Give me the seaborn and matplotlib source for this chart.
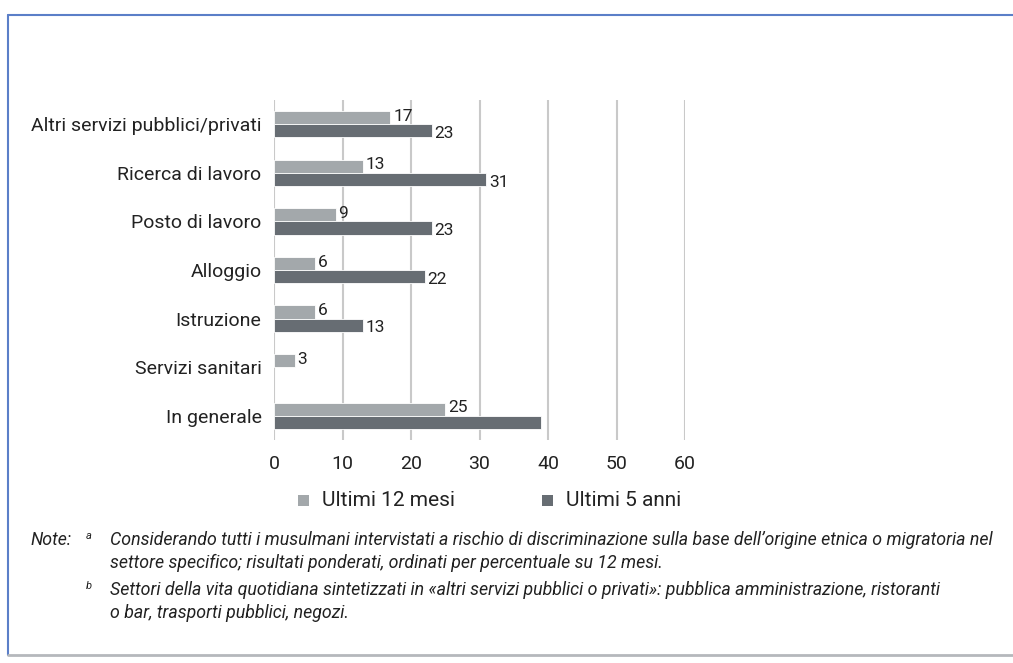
import matplotlib
matplotlib.use("Agg")
import matplotlib.pyplot as plt
from matplotlib.lines import Line2D
from matplotlib.patches import Rectangle
import seaborn as sns
import pandas as pd
import numpy as np

categories = [
    "Altri servizi pubblici/privati",
    "Ricerca di lavoro",
    "Posto di lavoro",
    "Alloggio",
    "Istruzione",
    "Servizi sanitari",
    "In generale",
]
ultimi_12_mesi = [17, 13, 9, 6, 6, 3, 25]
ultimi_5_anni = [23, 31, 23, 22, 13, np.nan, 39]
series_names = ["Ultimi 12 mesi", "Ultimi 5 anni"]
x_ticks = [0, 10, 20, 30, 40, 50, 60]

light = "#a3a8ab"
dark = "#676d73"
grid_col = "#c9c9c9"
text_col = "#222222"

df = pd.DataFrame({
    "settore": categories * 2,
    "valore": ultimi_12_mesi + ultimi_5_anni,
    "periodo": [series_names[0]] * len(categories) + [series_names[1]] * len(categories),
})

sns.set_theme(style="white")
plt.rcParams["font.family"] = ["Roboto", "DejaVu Sans"]

fig = plt.figure(figsize=(10.13, 6.63), dpi=100)
ax = fig.add_axes([274 / 1013, 1 - 440 / 663, 411 / 1013, 340 / 663])

sns.barplot(
    data=df, y="settore", x="valore", hue="periodo", orient="h",
    palette=[light, dark], width=0.54, ax=ax, legend=False,
    edgecolor="white", linewidth=0.6, saturation=1,
)

ax.set_xlim(0, 60)
ax.set_ylim(len(categories) - 0.5, -0.5)
ax.set_xticks(x_ticks)
ax.set_xticklabels([str(t) for t in x_ticks], fontsize=14, color=text_col)
ax.tick_params(axis="x", length=0, pad=11)
ax.tick_params(axis="y", length=0, pad=9)
for lbl in ax.get_yticklabels():
    lbl.set_fontsize(14)
    lbl.set_color(text_col)
ax.set_xlabel("")
ax.set_ylabel("")
for s in ax.spines.values():
    s.set_visible(False)
for t in x_ticks:
    ax.axvline(t, color=grid_col, lw=1.5, zorder=0)

# value labels next to each bar
for k, (cont, vals) in enumerate(zip(ax.containers, [ultimi_12_mesi, ultimi_5_anni])):
    dy = 1 if k == 0 else -2
    for bar, v in zip(cont, vals):
        if bar is None or np.isnan(v):
            continue
        yc = bar.get_y() + bar.get_height() / 2
        ax.annotate(f"{v:g}", (bar.get_width(), yc), xytext=(2, dy),
                    textcoords="offset points", va="center", ha="left",
                    fontsize=12.5, color=text_col)

# legend
fig.patches.append(Rectangle((298 / 1013, 1 - 506 / 663), 11 / 1013, 11 / 663,
                             transform=fig.transFigure, facecolor=light, edgecolor="none"))
fig.text(322 / 1013, 1 - 500 / 663, series_names[0], fontsize=15, color=text_col, va="center")
fig.patches.append(Rectangle((542 / 1013, 1 - 506 / 663), 11 / 1013, 11 / 663,
                             transform=fig.transFigure, facecolor=dark, edgecolor="none"))
fig.text(566 / 1013, 1 - 500 / 663, series_names[1], fontsize=15, color=text_col, va="center")

# notes
note_kw = dict(fontsize=12.8, style="italic", color=text_col, va="center")
fig.text(30 / 1013, 1 - 540 / 663, "Note:", **note_kw)
fig.text(86 / 1013, 1 - 536 / 663, "a", fontsize=8, style="italic", color=text_col, va="center")
fig.text(110 / 1013, 1 - 540 / 663,
         "Considerando tutti i musulmani intervistati a rischio di discriminazione sulla base dell\u2019origine etnica o migratoria nel",
         **note_kw)
fig.text(110 / 1013, 1 - 563 / 663,
         "settore specifico; risultati ponderati, ordinati per percentuale su 12 mesi.", **note_kw)
fig.text(86 / 1013, 1 - 586 / 663, "b", fontsize=8, style="italic", color=text_col, va="center")
fig.text(110 / 1013, 1 - 590 / 663,
         "Settori della vita quotidiana sintetizzati in \u00abaltri servizi pubblici o privati\u00bb: pubblica amministrazione, ristoranti",
         **note_kw)
fig.text(110 / 1013, 1 - 613 / 663, "o bar, trasporti pubblici, negozi.", **note_kw)

# frame
frame_blue = "#5b7fc8"
fig.add_artist(Line2D([8 / 1013, 8 / 1013], [1 - 15 / 663, 1 - 655 / 663],
                      transform=fig.transFigure, color=frame_blue, lw=1.5))
fig.add_artist(Line2D([8 / 1013, 1.0], [1 - 15 / 663, 1 - 15 / 663],
                      transform=fig.transFigure, color=frame_blue, lw=1.5))
fig.add_artist(Line2D([8 / 1013, 1.0], [1 - 655 / 663, 1 - 655 / 663],
                      transform=fig.transFigure, color="#b5b8bc", lw=2))

fig.savefig("out.png", dpi=100, facecolor="white")
